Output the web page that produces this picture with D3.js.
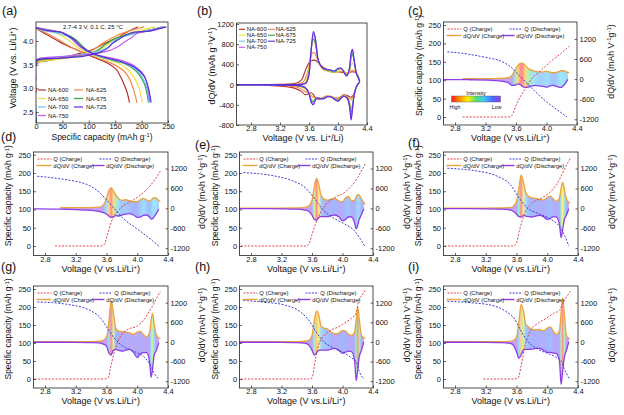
<!DOCTYPE html>
<html><head><meta charset="utf-8">
<script src="https://cdn.jsdelivr.net/npm/d3@7"></script>
<style>body{margin:0;background:#fff}svg{display:block}</style>
</head><body><svg id="chart" width="624" height="415"></svg>
<script>
// ================= DATA =================
const samples = ["NA-600","NA-625","NA-650","NA-675","NA-700","NA-725","NA-750"];
const sampleColors = ["#b3312b","#f08a48","#ece23a","#2fa33a","#6cc7ee","#5a2ed8","#c45cf0"];
const capTicks = [0,50,100,150,200,250];
const voltTicksA = [2.5,3.0,3.5,4.0];
const voltTicks = [2.8,3.2,3.6,4.0,4.4];
const dqdvTicksB = [-800,-400,0,400,800,1200];
const qTicks = [0,50,100,150,200,250];
const dqdvTicks = [-1200,-600,0,600,1200];

// Panel (a): [specific capacity (mAh/g), voltage (V)]
const chargeCurves = {
  "NA-600": [[0,2.9],[0,3.5],[5,3.55],[20,3.58],[36,3.61],[73,3.71],[105,3.81],[127,3.93],[150,4.05],[171,4.18],[193,4.3]],
  "NA-625": [[0,2.93],[0,3.52],[4,3.57],[30,3.61],[65,3.66],[103,3.78],[126,3.95],[154,4.12],[182,4.23],[205,4.3]],
  "NA-650": [[0,2.3],[0,3.52],[5,3.56],[32,3.6],[78,3.68],[110,3.77],[133,3.9],[147,4.03],[165,4.12],[188,4.2],[210,4.26],[225,4.3]],
  "NA-675": [[0,2.3],[0,3.55],[4,3.59],[44,3.64],[80,3.69],[111,3.77],[133,3.94],[146,4.03],[168,4.12],[191,4.18],[213,4.23],[240,4.3]],
  "NA-700": [[0,2.3],[0,3.57],[3,3.62],[39,3.66],[81,3.71],[114,3.77],[138,3.88],[146,3.99],[163,4.08],[189,4.16],[203,4.2],[228,4.26],[243,4.3]],
  "NA-725": [[0,2.3],[0,3.55],[3,3.6],[49,3.64],[91,3.68],[123,3.77],[137,3.86],[144,3.94],[156,4.03],[169,4.12],[183,4.18],[216,4.21],[234,4.26],[247,4.3]],
  "NA-750": [[0,3.17],[0,3.57],[3,3.62],[47,3.67],[92,3.71],[133,3.78],[155,3.88],[169,3.99],[182,4.08],[191,4.16],[209,4.2],[227,4.25],[244,4.3]]
};
const dischargeCurves = {
  "NA-600": [[0,4.27],[18,4.15],[50,3.95],[80,3.8],[109,3.66],[136,3.53],[152,3.4],[160,3.25],[168,3.05],[173,2.9],[177,2.7]],
  "NA-625": [[0,4.28],[14,4.2],[42,4.03],[75,3.82],[117,3.64],[150,3.49],[168,3.35],[177,3.2],[184,3.0],[188,2.85],[191,2.7]],
  "NA-650": [[0,4.29],[14,4.25],[41,4.16],[60,4.03],[78,3.87],[100,3.74],[128,3.64],[160,3.51],[178,3.35],[192,3.1],[198,2.9],[201,2.7]],
  "NA-675": [[0,4.28],[27,4.23],[53,4.16],[75,4.03],[89,3.88],[106,3.73],[133,3.63],[168,3.52],[190,3.36],[205,3.1],[210,2.9],[213,2.7]],
  "NA-700": [[0,4.28],[16,4.22],[39,4.17],[63,4.08],[77,3.95],[95,3.79],[114,3.7],[142,3.61],[170,3.52],[193,3.36],[207,3.1],[212,2.9],[214,2.7]],
  "NA-725": [[0,4.28],[21,4.22],[49,4.18],[58,4.12],[72,4.03],[86,3.88],[109,3.73],[132,3.65],[160,3.57],[186,3.45],[205,3.25],[213,3.0],[218,2.7]],
  "NA-750": [[0,4.29],[29,4.22],[51,4.18],[60,4.12],[69,4.03],[83,3.88],[106,3.74],[133,3.66],[165,3.58],[188,3.46],[205,3.27],[212,3.0],[216,2.7]]
};

// Voltage grid for dQ/dV curves
const vGrid = [2.6,2.9,3.0,3.2,3.4,3.5,3.55,3.6,3.63,3.66,3.69,3.72,3.76,3.8,3.85,3.9,3.95,4.0,4.04,4.08,4.12,4.16,4.18,4.2,4.22,4.25,4.28,4.3];

// Panel (b) dQ/dV (mAh g-1 V-1)
const bCharge = {
  "NA-600": [0,0,0,5,20,100,280,430,470,485,480,440,380,340,300,270,255,255,245,235,230,240,250,255,250,230,160,60],
  "NA-625": [0,0,0,0,5,30,120,350,560,640,600,480,360,300,270,250,240,250,260,250,230,240,270,290,280,240,160,60],
  "NA-650": [0,0,0,0,0,10,50,300,700,870,760,500,350,300,280,260,240,260,300,280,230,260,380,420,380,260,160,60],
  "NA-675": [0,0,0,0,0,5,30,250,700,900,800,520,380,310,290,270,250,300,320,260,200,300,520,600,480,250,150,60],
  "NA-700": [0,0,0,0,0,5,20,200,700,980,850,520,380,320,300,280,260,310,320,250,180,330,580,650,500,250,140,60],
  "NA-725": [0,0,0,0,0,5,20,200,700,1050,900,540,380,320,300,290,270,320,330,250,170,350,620,700,520,240,130,60],
  "NA-750": [0,0,0,0,0,5,20,180,650,1020,880,530,380,320,300,290,270,320,330,250,170,340,600,680,500,240,130,60]
};
const bDischarge = {
  "NA-600": [0,-10,-15,-30,-70,-140,-200,-180,-160,-200,-260,-290,-280,-250,-230,-240,-260,-270,-240,-200,-210,-240,-250,-230,-180,-60,20,60],
  "NA-625": [0,-5,-10,-20,-40,-90,-140,-180,-220,-250,-270,-280,-270,-250,-220,-230,-260,-280,-250,-220,-230,-280,-300,-260,-180,-50,20,60],
  "NA-650": [0,-5,-5,-10,-20,-50,-90,-180,-280,-320,-290,-270,-280,-270,-230,-230,-270,-300,-260,-230,-250,-350,-450,-380,-220,-60,20,60],
  "NA-675": [0,0,-5,-10,-15,-40,-70,-170,-300,-340,-280,-260,-280,-280,-240,-230,-280,-310,-270,-230,-250,-380,-550,-420,-220,-60,20,60],
  "NA-700": [0,0,-5,-10,-15,-35,-60,-170,-320,-370,-290,-260,-280,-280,-240,-240,-290,-320,-270,-230,-260,-420,-600,-450,-230,-60,20,60],
  "NA-725": [0,0,-5,-10,-15,-30,-60,-180,-350,-400,-300,-260,-280,-280,-240,-240,-290,-330,-270,-230,-260,-430,-700,-480,-230,-60,20,60],
  "NA-750": [0,0,-5,-10,-15,-30,-60,-180,-340,-390,-290,-260,-280,-280,-240,-240,-290,-320,-270,-230,-260,-430,-680,-470,-230,-60,20,60]
};

// Panels (c)-(i) dQ/dV (mAh V-1 g-1)
const dqCharge = {
  "NA-600": [null,15,15,15,20,40,120,320,420,480,470,410,320,270,240,210,215,230,215,190,195,225,240,250,250,230,200,180],
  "NA-625": [null,null,25,25,25,35,80,300,530,620,520,400,300,240,260,230,200,200,260,300,260,220,250,300,320,300,240,200],
  "NA-650": [10,10,10,10,15,25,60,250,650,900,700,380,280,250,280,300,230,200,320,350,230,250,350,420,400,280,170,120],
  "NA-675": [10,10,10,10,15,20,50,200,600,1000,800,480,360,320,300,270,250,330,370,280,210,330,600,780,600,280,180,150],
  "NA-700": [10,10,10,10,12,20,40,150,600,1250,900,420,330,320,300,280,230,300,320,230,150,300,650,870,550,200,120,100],
  "NA-725": [10,10,10,10,12,20,40,200,650,950,800,480,420,400,300,250,270,350,330,230,200,300,700,1070,700,200,130,120],
  "NA-750": [10,10,10,10,12,18,30,150,600,1150,950,550,450,380,370,380,340,420,460,320,230,350,900,1330,900,200,110,100]
};
const dqDischarge = {
  "NA-600": [-15,-15,-20,-30,-60,-110,-190,-170,-140,-170,-230,-250,-240,-210,-190,-200,-220,-240,-210,-190,-210,-240,-250,-240,-200,-120,-10,null],
  "NA-625": [-15,-20,-25,-40,-60,-90,-120,-170,-230,-270,-250,-220,-230,-200,-170,-160,-200,-270,-260,-210,-200,-260,-320,-310,-250,-150,-20,null],
  "NA-650": [-10,-10,-10,-15,-25,-50,-80,-200,-330,-350,-270,-250,-250,-250,-220,-200,-250,-370,-330,-260,-260,-450,-620,-500,-330,-180,-10,null],
  "NA-675": [-10,-10,-10,-12,-20,-40,-80,-170,-250,-260,-220,-230,-250,-260,-230,-210,-250,-330,-300,-250,-260,-500,-880,-650,-350,-200,-10,null],
  "NA-700": [-10,-10,-10,-12,-20,-30,-60,-130,-330,-400,-250,-230,-260,-280,-250,-230,-320,-480,-370,-330,-330,-600,-1080,-800,-400,-250,-20,null],
  "NA-725": [-10,-10,-10,-12,-20,-40,-80,-250,-400,-330,-260,-250,-250,-250,-220,-200,-250,-350,-310,-280,-300,-600,-1180,-850,-450,-250,0,null],
  "NA-750": [-10,-10,-10,-12,-20,-40,-80,-300,-500,-400,-250,-230,-230,-220,-200,-200,-250,-320,-320,-340,-360,-600,-1300,-900,-500,-250,0,null]
};

// ================= STYLE / LAYOUT =================
const FONT = "'Liberation Sans', Arial, Helvetica, sans-serif";
const intensityStops = ["#9040e8","#4a6cff","#3cc8ff","#50e070","#fff000","#ff9000","#ff1a1a"]; // Low -> High
const colQc = "#e2434b", colQd = "#3b3fd6", colDc = "#f0a23a", colDd = "#8d3de6";
const drawOrder = [0,1,2,3,4,6,5];
const TICK_FS = 7.5, XT_FS = 9;

const svg = d3.select("#chart");
const defs = svg.append("defs");
let clipN = 0;
function addClip(b){
  const id = "clip"+(clipN++);
  defs.append("clipPath").attr("id",id).append("rect")
    .attr("x",b.x0).attr("y",b.y0).attr("width",b.x1-b.x0).attr("height",b.y1-b.y0);
  return `url(#${id})`;
}
function txt(g,x,y,parts,size,anchor="start",rotate=0){
  const t = g.append("text").attr("x",x).attr("y",y).attr("font-size",size)
    .attr("font-family",FONT).attr("text-anchor",anchor).attr("fill","#111");
  if(rotate) t.attr("transform",`rotate(${rotate},${x},${y})`);
  let up=false;
  (Array.isArray(parts)?parts:[parts]).forEach(p=>{
    if(typeof p==="string"){ const s=t.append("tspan").text(p); if(up){s.attr("dy",size*0.33);up=false;} }
    else { t.append("tspan").text(p.sup).attr("font-size",size*0.68).attr("dy",-size*0.33); up=true; }
  });
  return t;
}
function frame(g,b){
  g.append("rect").attr("x",b.x0).attr("y",b.y0).attr("width",b.x1-b.x0).attr("height",b.y1-b.y0)
   .attr("fill","none").attr("stroke","#222").attr("stroke-width",0.8);
}
function axis(g,orient,scale,pos,ticks,fmt,size=TICK_FS){
  const gen = (orient==="bottom"?d3.axisBottom:orient==="left"?d3.axisLeft:d3.axisRight)(scale)
    .tickValues(ticks).tickFormat(fmt).tickSizeInner(-2.5).tickSizeOuter(0).tickPadding(orient==="bottom"?1:2.5);
  const a = g.append("g").attr("transform",orient==="bottom"?`translate(0,${pos})`:`translate(${pos},0)`).call(gen);
  a.select(".domain").remove();
  a.selectAll(".tick text").attr("font-size",size).attr("font-family",FONT).attr("fill","#111");
  a.selectAll(".tick line").attr("stroke","#222").attr("stroke-width",0.7);
}
const f1 = d3.format(".1f");
const fInt = d => String(d);

// ================= PANEL (a) =================
(function(){
  const xs = d3.scaleLinear([0,250],[36,168]);
  const ys = d3.scaleLinear([2.5,4.0],[112,41]);
  const box = {x0:36,x1:168,y0:22,y1:123};
  const g = svg.append("g");
  const line = d3.line().x(d=>xs(d[0])).y(d=>ys(d[1])).curve(d3.curveCatmullRom.alpha(0.5));
  const L = g.append("g").attr("clip-path",addClip(box));
  drawOrder.forEach(i=>{
    const s=samples[i];
    [chargeCurves[s],dischargeCurves[s]].forEach(arr=>{
      L.append("path").attr("d",line(arr)).attr("fill","none").attr("stroke",sampleColors[i]).attr("stroke-width",1.2);
    });
  });
  frame(g,box);
  axis(g,"bottom",xs,box.y1,capTicks,fInt);
  axis(g,"left",ys,box.x0,voltTicksA,f1);
  const rows=[92,100.5,109,117.5], lx=[[38,46],[74,83]], tx=[48,86];
  samples.forEach((s,i)=>{
    const r=Math.floor(i/2), c=i%2;
    g.append("line").attr("x1",lx[c][0]).attr("x2",lx[c][1]).attr("y1",rows[r]-2).attr("y2",rows[r]-2)
      .attr("stroke",sampleColors[i]).attr("stroke-width",1.2);
    txt(g,tx[c],rows[r],s,6);
  });
  txt(g,93,28.5,"2.7-4.3 V, 0.1 C, 25 °C",6,"middle");
  txt(g,102,139.5,["Specific capacity (mAh g",{sup:"-1"},")"],8.5,"middle");
  txt(g,15.5,68,["Voltage (V vs. Li/Li",{sup:"+"},")"],9,"middle",-90);
  txt(g,2,14.5,"(a)",12.5);
})();

// ================= PANEL (b) =================
(function(){
  const xs = d3.scaleLinear([2.8,4.4],[251,367]);
  const ys = d3.scaleLinear([-800,1200],[125,24]);
  const box = {x0:xs(2.6),x1:367,y0:23,y1:125};
  const g = svg.append("g");
  const L = g.append("g").attr("clip-path",addClip(box));
  drawOrder.forEach(i=>{
    const s=samples[i];
    [bCharge[s],bDischarge[s]].forEach(arr=>{
      const line = d3.line().x((d,k)=>xs(vGrid[k])).y(d=>ys(d)).curve(d3.curveMonotoneX);
      L.append("path").attr("d",line(arr)).attr("fill","none").attr("stroke",sampleColors[i]).attr("stroke-width",1.1);
    });
  });
  frame(g,box);
  axis(g,"bottom",xs,box.y1,voltTicks,f1);
  axis(g,"left",ys,box.x0,dqdvTicksB,fInt);
  const rows=[31.3,37.2,43.2,49.3], lx=[[239,245],[268,275]], tx=[246.7,275.8];
  samples.forEach((s,i)=>{
    const r=Math.floor(i/2), c=i%2;
    g.append("line").attr("x1",lx[c][0]).attr("x2",lx[c][1]).attr("y1",rows[r]-2).attr("y2",rows[r]-2)
      .attr("stroke",sampleColors[i]).attr("stroke-width",1.1);
    txt(g,tx[c],rows[r],s,5.9);
  });
  txt(g,303,141.2,["Voltage (V vs. Li",{sup:"+"},"/Li)"],XT_FS,"middle");
  txt(g,215,66,["dQ/dV (mAh g",{sup:"-1"},"V",{sup:"-1"},")"],9,"middle",-90);
  txt(g,197,14.5,"(b)",12.5);
})();

// ================= PANELS (c)-(i) =================
const rowGeom = [
  {q0:117, q250:25,   y0:22,  y1:125,  xt:141.2},
  {q0:246, q250:154.7,y0:152, y1:255.5,xt:271.7},
  {q0:379, q250:289,  y0:286, y1:388,  xt:404.2}
];
const dqPanels = [
  {id:"c",sample:"NA-600",row:0,x28:455,x44:577,lab:[408,14.5]},
  {id:"d",sample:"NA-625",row:1,x28:45, x44:168,lab:[1,141]},
  {id:"e",sample:"NA-650",row:1,x28:251,x44:373,lab:[195,148.5]},
  {id:"f",sample:"NA-675",row:1,x28:455,x44:578,lab:[408,146.5]},
  {id:"g",sample:"NA-700",row:2,x28:45, x44:168,lab:[1,270.5]},
  {id:"h",sample:"NA-725",row:2,x28:251,x44:373,lab:[195,271]},
  {id:"i",sample:"NA-750",row:2,x28:455,x44:578,lab:[408,271]}
];
const colorScale = d3.scaleLinear().domain(d3.range(7).map(k=>k/6)).range(intensityStops);

dqPanels.forEach(P=>{
  const s = P.sample, R = rowGeom[P.row];
  const xs = d3.scaleLinear([2.8,4.4],[P.x28,P.x44]);
  const ys = d3.scaleLinear([0,250],[R.q0,R.q250]);
  const yr = d3.scaleLinear([0,1200],[ys(103),ys(103+1200/11)]);
  const box = {x0:xs(2.65),x1:xs(4.4),y0:R.y0,y1:R.y1};
  const g = svg.append("g");
  const clip = addClip(box);
  const ch = dqCharge[s], dis = dqDischarge[s];
  const maxCh = d3.max(ch);
  const gid = "grad"+P.id;
  const grad = defs.append("linearGradient").attr("id",gid).attr("gradientUnits","userSpaceOnUse")
    .attr("x1",box.x0).attr("x2",box.x1).attr("y1",0).attr("y2",0);
  vGrid.forEach((v,k)=>{
    if(ch[k]==null) return;
    const t = Math.pow(Math.max(0,ch[k])/maxCh,1.6);
    grad.append("stop").attr("offset",Math.max(0,(xs(v)-box.x0)/(box.x1-box.x0))).attr("stop-color",colorScale(t));
  });
  const C = g.append("g").attr("clip-path",clip);
  const area = d3.area().defined((d,k)=>ch[k]!=null&&dis[k]!=null)
    .x((d,k)=>xs(vGrid[k])).y0((d,k)=>yr(dis[k])).y1((d,k)=>yr(ch[k])).curve(d3.curveMonotoneX);
  C.append("path").attr("d",area(vGrid)).attr("fill",`url(#${gid})`).attr("fill-opacity",0.5);
  const lineD = arr => d3.line().defined(d=>d!=null).x((d,k)=>xs(vGrid[k])).y(d=>yr(d)).curve(d3.curveMonotoneX)(arr);
  C.append("path").attr("d",lineD(ch)).attr("fill","none").attr("stroke",colDc).attr("stroke-width",1.3);
  C.append("path").attr("d",lineD(dis)).attr("fill","none").attr("stroke",colDd).attr("stroke-width",1.3);
  const qline = d3.line().x(d=>xs(d[0])).y(d=>ys(d[1])).curve(d3.curveMonotoneX);
  const qc = chargeCurves[s].map(([c,v])=>[v,c]);
  const qd = dischargeCurves[s].map(([c,v])=>[v,c]).reverse();
  C.append("path").attr("d",qline(qc)).attr("fill","none").attr("stroke",colQc).attr("stroke-width",1).attr("stroke-dasharray","2,1.5");
  C.append("path").attr("d",qline(qd)).attr("fill","none").attr("stroke",colQd).attr("stroke-width",1).attr("stroke-dasharray","2,1.5");
  frame(g,box);
  axis(g,"bottom",xs,box.y1,voltTicks,f1);
  axis(g,"left",ys,box.x0,qTicks,fInt);
  axis(g,"right",yr,box.x1,dqdvTicks,fInt);
  const r1 = box.y0+9, r2 = box.y0+15.5, fs=5.8;
  const items = [
    {lx:4, len:14,y:r1,col:colQc,dash:"2,1.2",w:1,t:"Q (Charge)"},
    {lx:66,len:13,y:r1,col:colQd,dash:"2,1.2",w:1,t:"Q (Discharge)"},
    {lx:3, len:15,y:r2,col:colDc,dash:null,w:1.4,t:"dQ/dV (Charge)"},
    {lx:58,len:13,y:r2,col:colDd,dash:null,w:1.4,t:"dQ/dV (Discharge)"}
  ];
  items.forEach(it=>{
    const lx0 = box.x0 + it.lx, lx1 = lx0+it.len;
    const ln = g.append("line").attr("x1",lx0).attr("x2",lx1).attr("y1",it.y-2).attr("y2",it.y-2)
      .attr("stroke",it.col).attr("stroke-width",it.w);
    if(it.dash) ln.attr("stroke-dasharray",it.dash);
    txt(g,lx1+1.8,it.y,it.t,fs);
  });
  const cx=(box.x0+box.x1)/2, cy=(box.y0+box.y1)/2;
  txt(g,cx,R.xt,["Voltage (V vs.Li/Li",{sup:"+"},")"],XT_FS,"middle");
  txt(g,box.x0-22,cy-8,["Specific capacity (mAh g",{sup:"-1"},")"],8.5,"middle",-90);
  txt(g,box.x1+37,cy-12,["dQ/dV (mAh V",{sup:"-1"},"g",{sup:"-1"},")"],8.7,"middle",-90);
  txt(g,P.lab[0],P.lab[1],`(${P.id})`,12.5);
  if(P.id==="c"){
    const bx0 = box.x0+8, bx1 = box.x0+57, by0 = R.q0-21, by1 = R.q0-15;
    const cg = defs.append("linearGradient").attr("id","cbar");
    intensityStops.slice().reverse().forEach((c,k)=>cg.append("stop").attr("offset",k/6).attr("stop-color",c));
    g.append("rect").attr("x",bx0).attr("y",by0).attr("width",bx1-bx0).attr("height",by1-by0)
      .attr("fill","url(#cbar)").attr("stroke","#555").attr("stroke-width",0.4);
    txt(g,(bx0+bx1)/2,by0-1.5,"Intensity",5.3,"middle");
    txt(g,bx0-2,by1+6.5,"High",5.3,"start");
    txt(g,bx1+1,by1+6.5,"Low",5.3,"end");
  }
});
</script></body></html>
